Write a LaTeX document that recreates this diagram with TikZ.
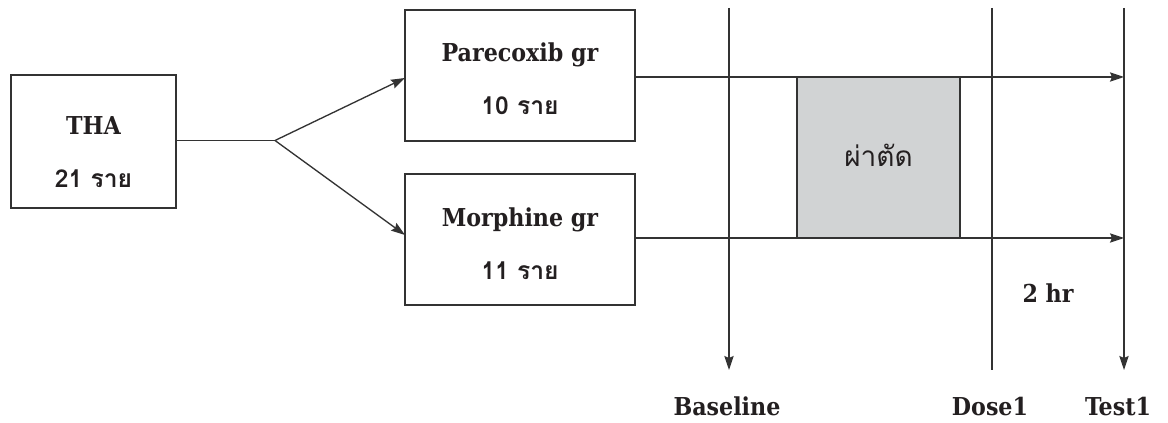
\documentclass[tikz,border=0pt]{standalone}
\usepackage{fontspec}
\usetikzlibrary{arrows.meta}
\newfontfamily\slab{DejaVu Serif Condensed}
\newfontfamily\thaifont[Script=Thai]{Loma}
\definecolor{ink}{HTML}{333333}
\definecolor{txt}{HTML}{231F20}
\definecolor{opfill}{HTML}{D1D3D4}

\begin{document}
\begin{tikzpicture}[x=0.75pt,y=-0.75pt,
  conn/.style={draw=ink, line width=1pt},
  tip/.style={-{Stealth[length=10.5pt,width=7pt,inset=1.5pt]}},
  box/.style={conn, fill=white, inner sep=0pt},
  lbl/.style={anchor=base, inner sep=0pt, text=txt, font=\slab\bfseries\fontsize{18.5}{18.5}\selectfont},
  num/.style={anchor=base, inner sep=0pt, text=txt, font=\thaifont\bfseries\fontsize{18.5}{18.5}\selectfont}]
  \useasboundingbox (0,0) rectangle (1168,423);

  % group boxes
  \node[box, minimum width=123.75pt, minimum height=99.75pt] (tha) at (93.5,141.5) {};
  \node[box, minimum width=172.5pt, minimum height=98.25pt] (par) at (520,75.5) {};
  \node[box, minimum width=172.5pt, minimum height=98.25pt] (mor) at (520,239.5) {};

  % box texts
  \node[lbl] (thaA) at (93.5,135) {THA};
  \node[num] (thaB) at (93.5,188) {21 ราย};
  \node[lbl] (parA) at (520,62) {Parecoxib gr};
  \node[num] (parB) at (520,115) {10 ราย};
  \node[lbl] (morA) at (520,227) {Morphine gr};
  \node[num] (morB) at (520,280) {11 ราย};

  % split into the two groups
  \coordinate (split) at (275,140.5);
  \coordinate (parIn) at (405,78);
  \coordinate (morIn) at (405,235);
  \draw[conn] (tha.east |- split) -- (split);
  \draw[conn, tip] (split) -- (parIn);
  \draw[conn, tip] (split) -- (morIn);

  % time axes for each group
  \coordinate (parOut) at (635,77);
  \coordinate (morOut) at (635,238);
  \coordinate (parEnd) at (1124,77);
  \coordinate (morEnd) at (1124,238);

  % operation block
  \node[box, fill=opfill, minimum width=122.25pt, minimum height=120.75pt] (op) at (878.5,157.5) {};
  \node[anchor=base, inner sep=0pt, text=txt, font=\thaifont\fontsize{21}{21}\selectfont] (opT) at (878.5,167) {ผ่าตัด};

  \draw[conn, tip] (parOut) -- (parEnd);
  \draw[conn, tip] (morOut) -- (morEnd);

  % time markers
  \coordinate (bTop) at (729,8);   \coordinate (bBot) at (729,370);
  \coordinate (dTop) at (992,8);   \coordinate (dBot) at (992,370);
  \coordinate (tTop) at (1124,8);  \coordinate (tBot) at (1124,370);
  \draw[conn, tip] (bTop) -- (bBot);
  \draw[conn] (dTop) -- (dBot);
  \draw[conn, tip] (tTop) -- (tBot);

  \node[lbl] (base) at (727,416) {Baseline};
  \node[lbl] (dose) at (990,416) {Dose1};
  \node[lbl] (test) at (1118,416) {Test1};
  \node[lbl] (hr) at (1048,303) {2 hr};
\end{tikzpicture}
\end{document}
